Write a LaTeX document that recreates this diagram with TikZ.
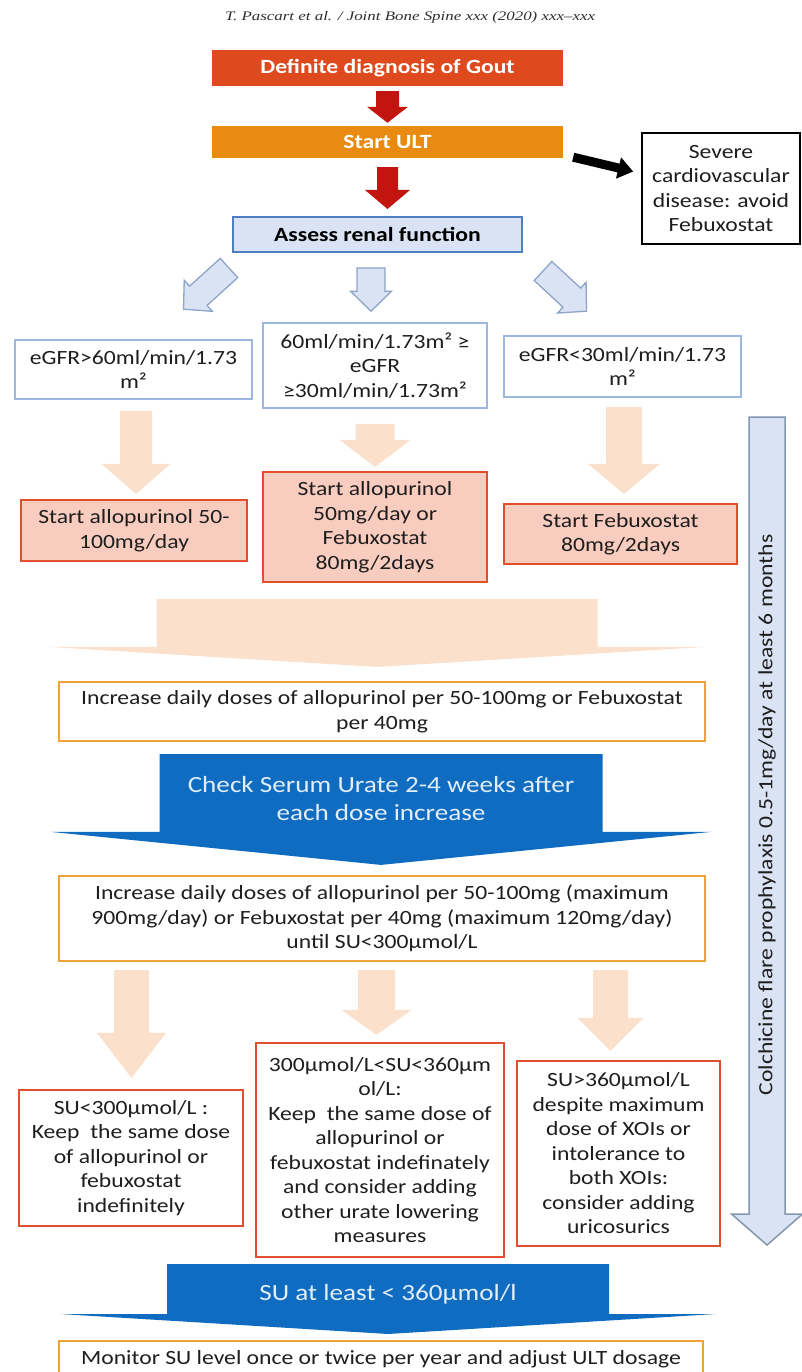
\documentclass[tikz,border=0pt]{standalone}
\usepackage{fontspec}
\setmainfont{Carlito}[FakeStretch=1.17]
\newfontfamily\hdrfont{Liberation Serif}[FakeStretch=1.3]
\usetikzlibrary{positioning,calc,backgrounds}

\definecolor{cDiag}{HTML}{DE4A1E}
\definecolor{cUlt}{HTML}{E88B10}
\definecolor{cRed}{HTML}{C2150F}
\definecolor{cRen}{HTML}{DAE3F3}
\definecolor{cRenD}{HTML}{4F7FC0}
\definecolor{cSkyD}{HTML}{8EA4C8}
\definecolor{cGfr}{HTML}{9DB8DE}
\definecolor{cPeach}{HTML}{FBE0CB}
\definecolor{cStart}{HTML}{F8CDBF}
\definecolor{cStartD}{HTML}{E0502C}
\definecolor{cInc}{HTML}{EDA23A}
\definecolor{cBlue}{HTML}{0F6CC0}
\definecolor{cBlueT}{HTML}{E2EEFA}
\definecolor{cColD}{HTML}{8497B0}
\definecolor{cTxt}{HTML}{1E1E1E}
\definecolor{cHdr}{HTML}{2E2E2E}

% block arrow: style, tail, tip, shaft half width, head half width, head length
\newcommand{\fatarrow}[6]{%
  \coordinate (fa) at ($(#3)!#6pt!(#2)$);
  \path[#1] ($(#2)!#4pt!90:(#3)$) -- ($(fa)!#4pt!90:(#3)$) -- ($(fa)!#5pt!90:(#3)$) -- (#3)
    -- ($(fa)!#5pt!-90:(#3)$) -- ($(fa)!#4pt!-90:(#3)$) -- ($(#2)!#4pt!-90:(#3)$) -- cycle;}

\tikzset{
  every node/.style={font=\fontsize{20.2}{24.5}\selectfont, text=cTxt, align=center, inner sep=0pt},
  sz/.style 2 args={minimum width=#1, minimum height=#2},
  topbox/.style={fill=#1, text=white, font=\bfseries\fontsize{20.2}{24}\selectfont},
  renbox/.style={fill=cRen, draw=cRenD, line width=2pt, font=\bfseries\fontsize{20.2}{24}\selectfont, text=black},
  notebox/.style={fill=white, draw=black, line width=1.8pt},
  gfrbox/.style={fill=white, draw=cGfr, line width=1.6pt},
  startbox/.style={fill=cStart, draw=cStartD, line width=2.2pt},
  incbox/.style={fill=white, draw=cInc, line width=2.2pt},
  subox/.style={fill=white, draw=cStartD, line width=2.2pt},
  bluetxt/.style={text=cBlueT, font=\fontsize{23.2}{28}\selectfont},
  redarr/.style={fill=cRed},
  skyarr/.style={fill=cRen, draw=cSkyD, line width=1.3pt},
  peacharr/.style={fill=cPeach},
  bluearr/.style={fill=cBlue},
}

\begin{document}
\begin{tikzpicture}[x=1pt, y=-1pt]
\useasboundingbox (0,0) rectangle (802,1372);
\fill[white] (0,0) rectangle (802,1372);
\clip (0,0) rectangle (802,1372);

\node[text=cHdr] (hdr) at (410,17) {\hdrfont\itshape\fontsize{13}{15}\selectfont T. Pascart et al. / Joint Bone Spine xxx (2020) xxx–xxx};

% ------------------------------------------------------------------ start
\node[topbox=cDiag, sz={351}{36}] (diag) at (387.5,68) {Definite diagnosis of Gout};
\node[topbox=cUlt, sz={351}{32}] (ult) at (387.5,142) {Start ULT};
\node[renbox, sz={289}{35}] (renal) at (377.5,234.5) {Assess renal function};
\node[notebox, sz={158}{111}] (severe) at (721,188.5) {Severe\\cardiovascular\\disease: avoid\\Febuxostat};

\coordinate (r1a) at ($(diag.south)+(0,5)$);
\coordinate (r1b) at ($(ult.north)+(0,-3)$);
\fatarrow{redarr}{r1a}{r1b}{11.5}{20.5}{16}
\coordinate (r2a) at ($(ult.south)+(0,9)$);
\coordinate (r2b) at ($(ult.south |- renal.north)+(0,-7)$);
\fatarrow{redarr}{r2a}{r2b}{10.5}{22.5}{19}
\coordinate (k1) at ($(ult.south east)+(10,-1)$);
\coordinate (k2) at ($(severe.west)+(-8,-17)$);
\fatarrow{fill=black}{k1}{k2}{4.5}{11}{15}

% ------------------------------------------------------------------ renal function
\node[gfrbox, sz={237}{59}] (gfrA) at (133.5,369.5) {eGFR>60ml/min/1.73\\m²};
\node[gfrbox, sz={224}{85}] (gfrB) at (375,365.5) {60ml/min/1.73m² ≥\\eGFR\\≥30ml/min/1.73m²};
\node[gfrbox, sz={237}{61}] (gfrC) at (622.5,366.5) {eGFR<30ml/min/1.73\\m²};

\coordinate (b1a) at ($(renal.south west)+(-3,15)$);
\coordinate (b1b) at ($(gfrA.north)+(50,-30)$);
\fatarrow{skyarr}{b1a}{b1b}{13}{21}{20}
\coordinate (b2a) at ($(renal.south)+(-6.5,15)$);
\coordinate (b2b) at ($(b2a |- gfrB.north)+(0,-11)$);
\fatarrow{skyarr}{b2a}{b2b}{14}{20.5}{20}
\coordinate (b3a) at ($(renal.south east)+(20,18)$);
\coordinate (b3b) at ($(gfrC.north)+(-36,-24)$);
\fatarrow{skyarr}{b3a}{b3b}{13}{21}{20}

% ------------------------------------------------------------------ first dose
\node[startbox, sz={226}{61}] (stA) at (134,530.5) {Start allopurinol 50-\\100mg/day};
\node[startbox, sz={224}{110}] (stB) at (375,527) {Start allopurinol\\50mg/day or\\Febuxostat\\80mg/2days};
\node[startbox, sz={233}{60}] (stC) at (620.5,534) {Start Febuxostat\\80mg/2days};

\coordinate (p1a) at ($(gfrA.south)+(2.5,11)$);
\coordinate (p1b) at ($(p1a |- stA.north)+(0,-5)$);
\fatarrow{peacharr}{p1a}{p1b}{16}{34.5}{30}
\coordinate (p2a) at ($(gfrB.south)+(0,15)$);
\coordinate (p2b) at ($(stB.north)+(0,-4)$);
\fatarrow{peacharr}{p2a}{p2b}{19.5}{35.5}{27}
\coordinate (p3a) at ($(gfrC.south)+(1.5,9)$);
\coordinate (p3b) at ($(p3a |- stC.north)+(0,-9)$);
\fatarrow{peacharr}{p3a}{p3b}{18}{36}{30}

% ------------------------------------------------------------------ titration
\node[incbox, sz={646}{59}] (incA) at (382,711.5) {Increase daily doses of allopurinol per 50-100mg or Febuxostat\\per 40mg};
\node[incbox, sz={646}{85}] (incB) at (382,918.5) {Increase daily doses of allopurinol per 50-100mg (maximum\\900mg/day) or Febuxostat per 40mg (maximum 120mg/day)\\until SU<300µmol/L};

\coordinate (p4a) at ($(incA.north |- stB.south)+(-5,16)$);
\coordinate (p4b) at ($(incA.north)+(-5,-14)$);
\fatarrow{peacharr}{p4a}{p4b}{220.5}{328.5}{20}
\coordinate (u1a) at ($(incA.south)+(-1,12)$);
\coordinate (u1b) at ($(incB.north)+(-1,-10)$);
\fatarrow{bluearr}{u1a}{u1b}{221.5}{330}{33}
\node[bluetxt] (chk) at (381,799) {Check Serum Urate 2-4 weeks after\\each dose increase};

% ------------------------------------------------------------------ outcome
\node[subox, sz={224}{136}] (suA) at (131,1158) {SU<300µmol/L :\\Keep\ \ the same dose\\of allopurinol or\\febuxostat\\indefinitely};
\node[subox, sz={248}{214}] (suB) at (380,1150) {300µmol/L<SU<360µm\\ol/L:\\Keep\ \ the same dose of\\allopurinol or\\febuxostat indefinately\\and consider adding\\other urate lowering\\measures};
\node[subox, sz={203}{185}] (suC) at (618.5,1153.5) {SU>360µmol/L\\despite maximum\\dose of XOIs or\\intolerance to\\both XOIs:\\consider adding\\uricosurics};

\coordinate (q1a) at ($(suA.north |- incB.south)+(0.5,8)$);
\coordinate (q1b) at ($(suA.north)+(0.5,-11)$);
\fatarrow{peacharr}{q1a}{q1b}{17.5}{34.5}{45}
\coordinate (q2a) at ($(incB.south)+(-5.5,8)$);
\coordinate (q2b) at ($(q2a |- suB.north)+(0,-7)$);
\fatarrow{peacharr}{q2a}{q2b}{18.5}{35}{25}
\coordinate (q3a) at ($(suC.north |- incB.south)+(-8,8)$);
\coordinate (q3b) at ($(suC.north)+(-8,-9)$);
\fatarrow{peacharr}{q3a}{q3b}{17.5}{33}{33}

\node[incbox, sz={644}{60}, anchor=north, text height=15pt, text depth=29pt] (mon) at (381,1340) {Monitor SU level once or twice per year and adjust ULT dosage};

\coordinate (u2a) at ($(suB.south)+(8,6)$);
\coordinate (u2b) at ($(u2a |- mon.north)+(0,-6)$);
\fatarrow{bluearr}{u2a}{u2b}{221}{327.5}{20}
\node[bluetxt] (atl) at (388,1294) {SU at least < 360µmol/l};

% ------------------------------------------------------------------ prophylaxis
\coordinate (colTop) at (767,417);
\coordinate (colTip) at (767,1245);
\fatarrow{fill=cRen, draw=cColD, line width=1.5pt}{colTop}{colTip}{18}{35.5}{31}
\node[rotate=90] (colch) at (767,815) {Colchicine flare prophylaxis 0.5-1mg/day at least 6 months};

\end{tikzpicture}
\end{document}
